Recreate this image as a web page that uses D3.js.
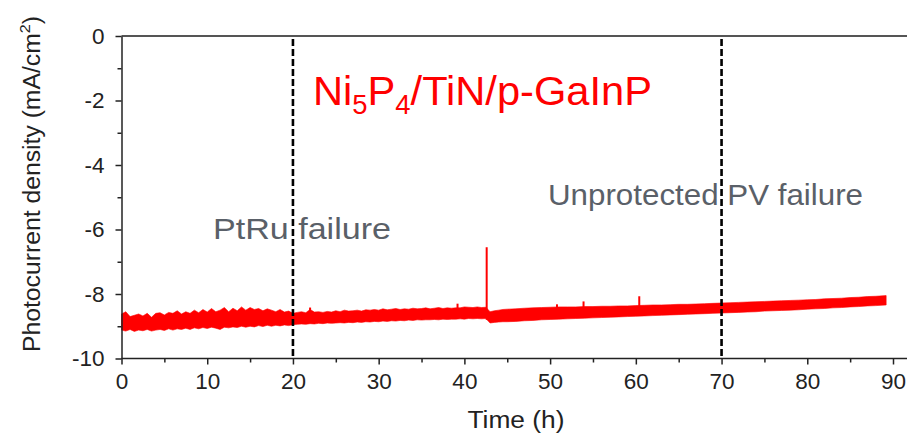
<!DOCTYPE html>
<html><head><meta charset="utf-8">
<script src="https://cdn.jsdelivr.net/npm/d3@7"></script>
<style>
html,body{margin:0;padding:0;background:#fff;}
text{font-family:"Liberation Sans",Arial,sans-serif;}
</style></head>
<body>
<svg id="chart" width="907" height="433"></svg>
<script>
// ---------- data ----------
const xTicks = [0,10,20,30,40,50,60,70,80,90];
const xMinorTicks = [5,15,25,35,45,55,65,75,85];
const yTicks = [0,-2,-4,-6,-8,-10];
const yMinorTicks = [-1,-3,-5,-7,-9];
const failureTimes = [20,70];
const failureLabels = ["PtRu failure","Unprotected PV failure"];

// sample times (h) of the envelope of the noisy trace
const timeH = [
 0,0.5,1,1.5,2,2.5,3,3.5,4,4.5,5,5.5,6,6.5,7,7.5,8,8.5,9,9.5,
 10,10.5,11,11.5,12,12.5,13,13.5,14,14.5,15,15.5,16,16.5,17,17.5,18,18.5,19,19.5,
 20,20.5,21,21.5,22,22.5,23,23.5,24,24.5,25,25.5,26,26.5,27,27.5,28,28.5,29,29.5,
 30,30.5,31,31.5,32,32.5,33,33.5,34,34.5,35,35.5,36,36.5,37,37.5,38,38.5,39,39.5,
 40,40.5,41,41.5,42,42.5,43,43.5,44,44.5,
 45,46,47,48,49,50,51,52,53,54,55,56,57,58,59,60,61,62,63,64,65,66,67,68,69,
 70,71,72,73,74,75,76,77,78,79,80,81,82,83,84,85,86,87,88,89.2];
// upper edge of the trace (mA/cm2)
const upperJ = [
 -8.62,-8.55,-8.70,-8.66,-8.62,-8.68,-8.60,-8.72,-8.60,-8.58,-8.65,-8.57,-8.60,-8.52,-8.62,-8.55,-8.60,-8.50,-8.58,-8.48,
 -8.56,-8.45,-8.55,-8.50,-8.42,-8.55,-8.44,-8.52,-8.40,-8.50,-8.42,-8.48,-8.45,-8.52,-8.46,-8.50,-8.55,-8.48,-8.56,-8.53,
 -8.60,-8.57,-8.55,-8.58,-8.48,-8.56,-8.55,-8.57,-8.54,-8.56,-8.52,-8.55,-8.50,-8.53,-8.52,-8.50,-8.53,-8.49,-8.50,-8.48,
 -8.50,-8.46,-8.49,-8.47,-8.45,-8.48,-8.46,-8.47,-8.44,-8.46,-8.45,-8.43,-8.46,-8.44,-8.42,-8.45,-8.43,-8.44,-8.43,-8.43,
 -8.40,-8.41,-8.42,-8.40,-8.42,-8.41,-8.55,-8.52,-8.50,-8.48,
 -8.47,-8.46,-8.44,-8.43,-8.42,-8.41,-8.40,-8.40,-8.40,-8.39,-8.39,-8.38,-8.38,-8.37,-8.37,-8.36,-8.35,-8.34,-8.34,-8.33,-8.32,-8.32,-8.31,-8.30,-8.29,
 -8.28,-8.27,-8.26,-8.25,-8.24,-8.23,-8.22,-8.21,-8.20,-8.19,-8.18,-8.17,-8.15,-8.14,-8.13,-8.11,-8.10,-8.08,-8.07,-8.05];
// lower edge of the trace (mA/cm2)
const lowerJ = [
 -9.12,-9.15,-9.10,-9.16,-9.12,-9.14,-9.10,-9.15,-9.12,-9.10,-9.13,-9.08,-9.12,-9.08,-9.10,-9.06,-9.10,-9.05,-9.08,-9.04,
 -9.07,-9.03,-9.06,-9.10,-9.03,-9.05,-9.02,-9.04,-9.00,-9.03,-9.00,-9.02,-8.98,-9.01,-8.97,-9.00,-8.97,-8.99,-8.96,-8.98,
 -8.95,-8.94,-8.93,-8.94,-8.92,-8.93,-8.91,-8.92,-8.90,-8.91,-8.90,-8.89,-8.90,-8.88,-8.89,-8.87,-8.88,-8.86,-8.87,-8.85,
 -8.86,-8.84,-8.85,-8.83,-8.84,-8.82,-8.83,-8.81,-8.82,-8.80,-8.81,-8.80,-8.80,-8.79,-8.80,-8.78,-8.79,-8.78,-8.78,-8.77,
 -8.78,-8.76,-8.77,-8.76,-8.77,-8.76,-8.90,-8.88,-8.87,-8.86,
 -8.86,-8.85,-8.83,-8.82,-8.80,-8.79,-8.78,-8.77,-8.76,-8.75,-8.74,-8.73,-8.72,-8.71,-8.70,-8.69,-8.68,-8.67,-8.66,-8.65,-8.64,-8.63,-8.62,-8.61,-8.60,
 -8.59,-8.58,-8.57,-8.56,-8.55,-8.53,-8.52,-8.51,-8.50,-8.49,-8.47,-8.46,-8.45,-8.43,-8.42,-8.40,-8.39,-8.37,-8.36,-8.34];
// isolated spikes
const spikeTimes = [22.0, 39.2, 42.6, 50.8, 53.9, 60.4];
const spikePeaks = [-8.42, -8.30, -6.55, -8.32, -8.23, -8.07];
const spikeBases = [-8.7, -8.6, -8.8, -8.6, -8.55, -8.5];

// ---------- drawing ----------
const svg = d3.select("#chart");
const x = d3.scaleLinear().domain([0,90]).range([121.5,893]);
const y = d3.scaleLinear().domain([-10,0]).range([358.5,36]);
const red = "#ff0000";
const axisCol = "#222";

// trace band
const band = timeH.map((t,i)=>({t, hi:upperJ[i], lo:lowerJ[i]}));
svg.append("path").datum(band)
  .attr("d", d3.area().x(d=>x(d.t)).y0(d=>y(d.lo)).y1(d=>y(d.hi)))
  .attr("fill", red).attr("stroke", red).attr("stroke-width", 0.6);
svg.selectAll("line.spike").data(spikeTimes).join("line")
  .attr("class","spike")
  .attr("x1", d=>x(d)).attr("x2", d=>x(d))
  .attr("y1", (d,i)=>y(spikeBases[i])).attr("y2", (d,i)=>y(spikePeaks[i]))
  .attr("stroke", red).attr("stroke-width", 2);

// failure lines
svg.selectAll("line.fail").data(failureTimes).join("line")
  .attr("class","fail")
  .attr("x1", d=>x(d)).attr("x2", d=>x(d))
  .attr("y1", y(0)+3).attr("y2", y(-10))
  .attr("stroke", "#000").attr("stroke-width", 2.6)
  .attr("stroke-dasharray", "7,3");

// frame line at top
svg.append("line").attr("x1", x(0)).attr("x2", 907).attr("y1", y(0)).attr("y2", y(0))
  .attr("stroke", "#555").attr("stroke-width", 2);

// axes
const xAxis = svg.append("g").attr("transform", `translate(0,${y(-10)})`)
  .call(d3.axisBottom(x).tickValues(xTicks).tickSize(6).tickSizeOuter(0).tickPadding(9).tickFormat(d3.format("d")));
svg.append("g").attr("transform", `translate(0,${y(-10)})`)
  .call(d3.axisBottom(x).tickValues(xMinorTicks).tickSize(4).tickSizeOuter(0).tickFormat(""))
  .select(".domain").remove();
const yAxis = svg.append("g").attr("transform", `translate(${x(0)},0)`)
  .call(d3.axisLeft(y).tickValues(yTicks).tickSize(6).tickSizeOuter(0).tickPadding(11).tickFormat(d3.format("d")));
svg.append("g").attr("transform", `translate(${x(0)},0)`)
  .call(d3.axisLeft(y).tickValues(yMinorTicks).tickSize(4).tickSizeOuter(0).tickFormat(""))
  .select(".domain").remove();
xAxis.select(".domain").remove();
svg.append("line").attr("x1", x(0)).attr("x2", 907).attr("y1", y(-10)).attr("y2", y(-10))
  .attr("stroke", axisCol).attr("stroke-width", 1.5);
yAxis.select(".domain").attr("stroke", axisCol).attr("stroke-width", 1.5);
svg.selectAll(".tick line").attr("stroke", axisCol).attr("stroke-width", 1.5);
svg.selectAll(".tick text").attr("font-size", 22.5).attr("fill", axisCol)
  .attr("font-family", '"Liberation Sans",Arial,sans-serif');
yAxis.selectAll(".tick text").text(d=>String(d));

// axis titles
svg.append("text").attr("x", 516).attr("y", 428).attr("text-anchor","middle")
  .attr("font-size", 23).attr("fill", axisCol)
  .attr("textLength", 97).attr("lengthAdjust","spacingAndGlyphs")
  .text("Time (h)");
const yt = svg.append("text").attr("transform","translate(40,184) rotate(-90)")
  .attr("text-anchor","middle").attr("font-size", 23).attr("fill", axisCol)
  .attr("textLength", 336).attr("lengthAdjust","spacingAndGlyphs");
yt.append("tspan").text("Photocurrent density (mA/cm");
yt.append("tspan").attr("font-size", 15).attr("dy", -10).text("2");
yt.append("tspan").attr("dy", 10).text(")");

// title
const tt = svg.append("text").attr("x", 313).attr("y", 105)
  .attr("font-size", 41).attr("fill", red)
  .attr("textLength", 339).attr("lengthAdjust","spacingAndGlyphs");
tt.append("tspan").text("Ni");
tt.append("tspan").attr("font-size", 27).attr("dy", 9).text("5");
tt.append("tspan").attr("dy", -9).text("P");
tt.append("tspan").attr("font-size", 27).attr("dy", 9).text("4");
tt.append("tspan").attr("dy", -9).text("/TiN/p-GaInP");

// failure annotations
const annPos = [{x:213, y:239, fs:29, w:178},{x:548, y:205, fs:30, w:315}];
svg.selectAll("text.ann").data(failureLabels).join("text")
  .attr("class","ann")
  .attr("x", (d,i)=>annPos[i].x).attr("y", (d,i)=>annPos[i].y)
  .attr("font-size", (d,i)=>annPos[i].fs)
  .attr("textLength", (d,i)=>annPos[i].w).attr("lengthAdjust","spacingAndGlyphs")
  .attr("fill", "#5a6068")
  .text(d=>d);
</script>
</body></html>
